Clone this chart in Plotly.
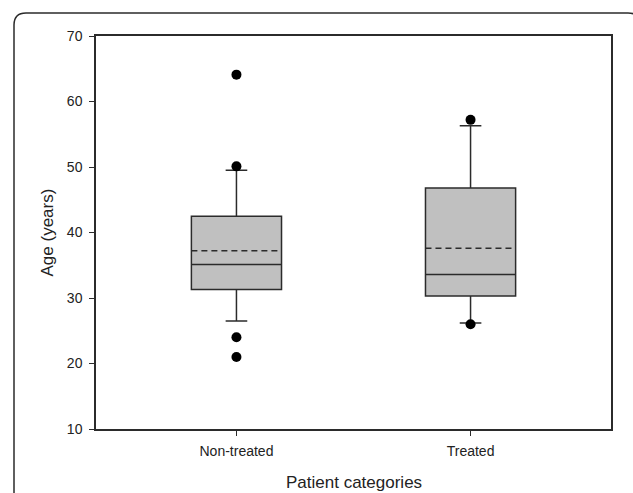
import plotly.graph_objects as go

categories = ["Non-treated", "Treated"]
q1 = [31.3, 30.3]
median = [35.1, 33.6]
q3 = [42.5, 46.8]
lower_whisker = [26.5, 26.2]
upper_whisker = [49.5, 56.3]
mean = [37.2, 37.6]
outliers_nontreated = [64.1, 50.1, 24.0, 21.0]
outliers_treated = [57.2, 26.0]
y_ticks = [10, 20, 30, 40, 50, 60, 70]

W, H = 633, 493
ML, MR, MT, MB = 96, 22, 36, 64
PW, PH = W - ML - MR, H - MT - MB
BOX_W = 0.385

def px_x(p):
    return (p - ML) / PW

def px_y(p):
    return (H - MB - p) / PH

line_col = "#2b2b2b"
font = dict(family="Liberation Sans, Arial, sans-serif", color="#222222")
pos = list(range(len(categories)))

fig = go.Figure()
fig.add_trace(go.Box(
    x=pos, q1=q1, median=median, q3=q3,
    lowerfence=lower_whisker, upperfence=upper_whisker,
    boxpoints=False, width=BOX_W, whiskerwidth=0.24,
    fillcolor="#c0c0c0", line=dict(color=line_col, width=1.5),
    showlegend=False, hoverinfo="skip",
))
# mean lines (dashed)
for i, m in zip(pos, mean):
    fig.add_trace(go.Scatter(
        x=[i - BOX_W / 2, i + BOX_W / 2], y=[m, m], mode="lines",
        line=dict(color=line_col, width=1.5, dash="6px,4px"),
        showlegend=False, hoverinfo="skip",
    ))
fig.add_trace(go.Scatter(
    x=[pos[0]] * len(outliers_nontreated) + [pos[1]] * len(outliers_treated),
    y=outliers_nontreated + outliers_treated,
    mode="markers", marker=dict(color="black", size=10),
    showlegend=False, hoverinfo="skip",
))

# outer rounded frame
l, t, r, b, rad = 14, 13, 640, 520, 12
x0, x1 = px_x(l), px_x(r)
y0, y1 = px_y(t), px_y(b)
rx, ry = rad / PW, rad / PH
path = (f"M {x0},{y1} L {x0},{y0 - ry} Q {x0},{y0} {x0 + rx},{y0} "
        f"L {x1 - rx},{y0} Q {x1},{y0} {x1},{y0 - ry} L {x1},{y1}")
fig.add_shape(type="path", path=path, xref="paper", yref="paper",
              line=dict(color=line_col, width=1.5), layer="above")

# axis titles
fig.add_annotation(text="Patient categories", xref="paper", yref="paper",
                   x=0.5, y=px_y(482), xanchor="center", yanchor="middle",
                   showarrow=False, font=dict(size=17))
fig.add_annotation(text="Age (years)", xref="paper", yref="paper",
                   x=px_x(47), y=0.5, xanchor="center", yanchor="middle",
                   textangle=-90, showarrow=False, font=dict(size=17))

fig.update_layout(
    width=W, height=H,
    margin=dict(l=ML, r=MR, t=MT, b=MB, pad=0),
    paper_bgcolor="white", plot_bgcolor="white",
    font=font,
    xaxis=dict(
        range=[-0.6, 1.6], tickvals=pos, ticktext=categories,
        showline=True, linecolor=line_col, linewidth=1.5, mirror=True,
        ticks="outside", ticklen=5, tickwidth=1, tickcolor=line_col,
        tickfont=dict(size=14), showgrid=False, zeroline=False,
        ticklabelstandoff=3, automargin=False,
    ),
    yaxis=dict(
        range=[10, 70], tickvals=y_ticks,
        showline=True, linecolor=line_col, linewidth=1.5, mirror=True,
        ticks="outside", ticklen=5, tickwidth=1, tickcolor=line_col,
        tickfont=dict(size=14), showgrid=False, zeroline=False,
        ticklabelstandoff=4, automargin=False,
    ),
)

fig.write_html(
    "out.html",
    config={"displayModeBar": False},
    post_script="document.body.style.margin='0';document.body.style.overflow='hidden';",
)
